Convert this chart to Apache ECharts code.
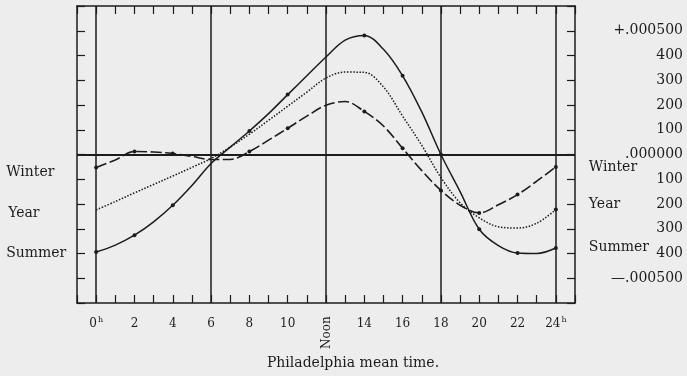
<!DOCTYPE html>
<html>
<head>
<meta charset="utf-8">
<script src="https://cdn.jsdelivr.net/npm/echarts@6/dist/echarts.min.js"></script>
<style>
  html, body { margin: 0; padding: 0; background: #ededed; }
  #chart { width: 687px; height: 376px; }
</style>
</head>
<body>
<div id="chart"></div>
<script>
// Hour of the day (Philadelphia mean time)
const hours = [0, 1, 2, 3, 4, 5, 6, 7, 8, 9, 10, 11, 12, 13, 14, 15, 16, 17, 18, 19, 20, 21, 22, 23, 24];

// Diurnal variation, in millionths
const summer = [-394, -366, -326, -272, -205, -125, -36, 30, 95, 165, 242, 318, 394, 462, 481, 425, 318, 172, 0, -150, -302, -368, -398, -400, -378];
const year   = [-224, -190, -155, -121, -87, -52, -16, 30, 82, 138, 195, 252, 309, 333, 332, 273, 155, 37, -93, -195, -256, -292, -297, -278, -222];
const winter = [-53, -22, 12, 10, 4, -8, -20, -20, 12, 58, 106, 155, 199, 214, 174, 115, 25, -65, -145, -205, -236, -203, -162, -108, -50];

// Hours at which the observed points are marked with a dot
const summerDots = [0, 2, 4, 8, 10, 14, 16, 18, 20, 22, 24];
const yearDots = [24];
const winterDots = [0, 2, 4, 8, 10, 14, 16, 18, 20, 22, 24];

// Heavy vertical rules
const divisionHours = [0, 6, 12, 18, 24];

// Right-hand scale
const rightTickValues = [500, 400, 300, 200, 100, 0, -100, -200, -300, -400, -500];
const rightTickLabels = ['+.000500', '400', '300', '200', '100', '.000000', '100', '200', '300', '400', '\u2014.000500'];

const INK = '#1c1c1c';
const FONT = "'DejaVu Serif', 'Liberation Serif', serif";

function hourLabel(v) {
  if (v === 0) return '0{sup|h}';
  if (v === 24) return '24{sup|h}';
  if (v === 12) return '';
  return (v > 0 && v < 24 && v % 2 === 0) ? String(v) : '';
}

function curve(name, values, dots, lineStyle, startOffset, endOffset) {
  const last = hours.length - 1;
  return {
    type: 'line',
    name: name,
    smooth: 0.35,
    symbol: 'circle',
    showSymbol: true,
    symbolSize: function (v) { return dots.indexOf(v[0]) >= 0 ? 4 : 0; },
    itemStyle: { color: INK },
    lineStyle: lineStyle,
    z: 3,
    data: hours.map(function (h, i) {
      const item = { value: [h, values[i]] };
      if (i === 0) {
        item.label = {
          show: true, position: 'left', distance: 88, align: 'left',
          offset: [0, startOffset], formatter: name,
          fontFamily: FONT, fontSize: 14, color: INK
        };
      } else if (i === last) {
        item.label = {
          show: true, position: 'right', distance: 31, align: 'left',
          offset: [0, endOffset], formatter: name,
          fontFamily: FONT, fontSize: 14, color: INK
        };
      }
      return item;
    })
  };
}

const frameLine = { show: true, onZero: false, lineStyle: { color: INK, width: 1.5 } };
const innerTick = { show: true, inside: true, length: 8, lineStyle: { color: INK, width: 1.2 } };

const chart = echarts.init(document.getElementById('chart'), null, { renderer: 'canvas' });

const summerSeries = curve('Summer', summer, summerDots, { color: INK, width: 1.5, type: 'solid' }, 1, -1);
summerSeries.markLine = {
  silent: true,
  symbol: ['none', 'none'],
  label: { show: false },
  lineStyle: { color: INK, width: 1.5, type: 'solid' },
  data: divisionHours.map(function (h) { return { xAxis: h }; })
    .concat([{ yAxis: 0, lineStyle: { color: INK, width: 2, type: 'solid' } }])
};

chart.setOption({
  animation: false,
  backgroundColor: '#ededed',
  grid: { left: 77, right: 112, top: 6, bottom: 73, containLabel: false, outerBoundsMode: 'none' },
  xAxis: [
    {
      type: 'value', min: -1, max: 25, interval: 1, position: 'bottom',
      axisLine: frameLine, axisTick: innerTick, splitLine: { show: false },
      axisLabel: {
        margin: 14, formatter: hourLabel, fontFamily: FONT, fontSize: 12, color: INK,
        lineHeight: 14,
        rich: { sup: { fontFamily: FONT, fontSize: 8, color: INK, verticalAlign: 'bottom', lineHeight: 8, padding: [0, 0, 7, 1] } }
      }
    },
    {
      type: 'value', min: -1, max: 25, interval: 1, position: 'top',
      axisLine: frameLine, axisTick: innerTick, splitLine: { show: false },
      axisLabel: { show: false }
    }
  ],
  yAxis: [
    {
      type: 'value', min: -600, max: 600, interval: 100, position: 'left',
      axisLine: frameLine, axisTick: innerTick, splitLine: { show: false },
      axisLabel: { show: false }
    },
    {
      type: 'value', min: -600, max: 600, interval: 100, position: 'right',
      axisLine: frameLine, axisTick: innerTick, splitLine: { show: false },
      axisLabel: {
        margin: 108, align: 'right', fontFamily: FONT, fontSize: 14, color: INK,
        formatter: function (v) {
          const k = rightTickValues.indexOf(v);
          return k >= 0 ? rightTickLabels[k] : '';
        }
      }
    }
  ],
  series: [
    summerSeries,
    curve('Year', year, yearDots, { color: INK, width: 1.5, type: [1.5, 1.6] }, 3, -5),
    curve('Winter', winter, winterDots, { color: INK, width: 1.6, type: [11, 3.5] }, 5, 0)
  ]
});

// Rotated "Noon" under the 12-hour rule, and the axis caption
const noonX = chart.convertToPixel({ xAxisIndex: 0 }, 12);
chart.setOption({
  graphic: [
    {
      type: 'text', x: noonX + 1, y: 349, rotation: Math.PI / 2, silent: true,
      style: { text: 'Noon', fill: INK, font: '12px ' + FONT, textAlign: 'left', textVerticalAlign: 'middle' }
    },
    {
      type: 'text', x: 353, y: 363, silent: true,
      style: { text: 'Philadelphia mean time.', fill: INK, font: '14px ' + FONT, textAlign: 'center', textVerticalAlign: 'middle' }
    }
  ]
});
</script>
</body>
</html>
